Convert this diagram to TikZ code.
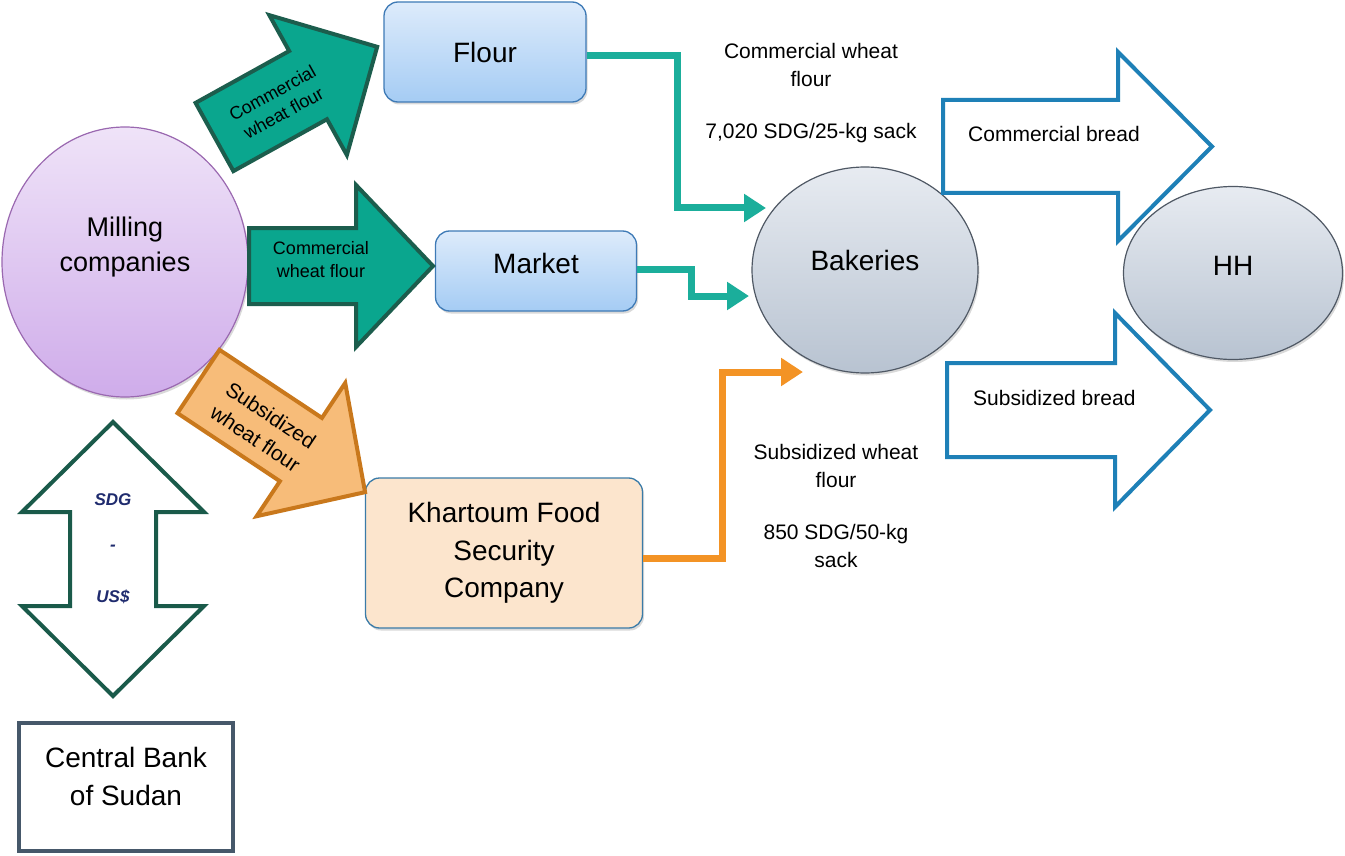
\documentclass[tikz,border=0pt]{standalone}
\usepackage{fontspec}
\setmainfont{Liberation Sans}
\usetikzlibrary{shapes.geometric,arrows.meta,shadows}

\definecolor{millborder}{HTML}{9A68B0}
\definecolor{milltop}{HTML}{EFE3F8}
\definecolor{millbot}{HTML}{CFACEA}
\definecolor{boxborder}{HTML}{3E7AB6}
\definecolor{boxtop}{HTML}{DDEBFB}
\definecolor{boxbot}{HTML}{A5CCF4}
\definecolor{kfscfill}{HTML}{FCE5CD}
\definecolor{kfscborder}{HTML}{3A7BA8}
\definecolor{ovalborder}{HTML}{4F5864}
\definecolor{ovaltop}{HTML}{E7EBF1}
\definecolor{ovalbot}{HTML}{B8C3D1}
\definecolor{tealfill}{HTML}{0AA68E}
\definecolor{tealline}{HTML}{1C5D4D}
\definecolor{tealconn}{HTML}{1BAE9B}
\definecolor{orangefill}{HTML}{F7BC79}
\definecolor{orangeline}{HTML}{C9781C}
\definecolor{orangeconn}{HTML}{F39325}
\definecolor{breadblue}{HTML}{1E80B7}
\definecolor{fxgreen}{HTML}{1A5A4A}
\definecolor{fxtext}{HTML}{1F2B6E}
\definecolor{bankborder}{HTML}{46586A}

\begin{document}
\begin{tikzpicture}[x=1pt,y=-1pt,
  bigtext/.style={font=\fontsize{28}{38}\selectfont, align=center},
  pricetext/.style={font=\fontsize{21}{28}\selectfont, align=center},
  arrowtext/.style={font=\fontsize{18}{23}\selectfont, align=center, inner sep=0pt},
  shadowed/.style={drop shadow={opacity=0.3, shadow xshift=1.5pt, shadow yshift=-2.5pt}},
  boxbase/.style={shadowed, line width=1.3pt, rounded corners=14pt, bigtext},
  flowbox/.style={boxbase, draw=boxborder, top color=boxtop, bottom color=boxbot},
  ovalnode/.style={shadowed, ellipse, draw=ovalborder, line width=1.2pt, top color=ovaltop, bottom color=ovalbot},
  tealarrow/.style={fill=tealfill, draw=tealline, line width=4pt},
  orangearrow/.style={fill=orangefill, draw=orangeline, line width=4pt},
  breadarrow/.style={fill=white, draw=breadblue, line width=4pt},
  fxarrow/.style={fill=white, draw=fxgreen, line width=4pt},
  fxlabel/.style={font=\fontsize{17}{20}\selectfont\bfseries\itshape, text=fxtext},
  conn/.style={line width=7pt, -{Triangle[length=22pt,width=27pt]}},
]
\useasboundingbox (0,0) rectangle (1345,856);

% Milling companies
\node[ovalnode, draw=millborder, top color=milltop, bottom color=millbot,
  minimum width=246pt, minimum height=270pt] (mill) at (125,262) {};
\node[bigtext, font=\fontsize{27}{35}\selectfont] (milltxt) at (125,247) {Milling\\companies};

% boxes
\node[flowbox, minimum width=202pt, minimum height=100pt] (flour) at (485,52) {Flour};
\node[flowbox, minimum width=201pt, minimum height=80pt, text depth=16pt] (market) at (536,271) {Market};
\node[boxbase, draw=kfscborder, fill=kfscfill, minimum width=277pt, minimum height=150pt,
  font=\fontsize{28}{37.5}\selectfont] (kfsc) at (504,553) {Khartoum Food\\Security\\Company};

% Bakeries and HH
\node[ovalnode, minimum width=226pt, minimum height=206pt] (bakery) at (865,270) {};
\node[bigtext] (bakerytxt) at (865,260) {Bakeries};
\node[ovalnode, minimum width=219pt, minimum height=173pt] (hh) at (1233,273) {};
\node[bigtext] (hhtxt) at (1233,266) {HH};

% Central Bank
\node[draw=bankborder, line width=4pt, minimum width=214pt, minimum height=128pt] (cbos) at (126,787) {};
\node[bigtext] (cbostxt) at (126,776) {Central Bank\\of Sudan};

% block arrows out of the mill
\begin{scope}[shift={(214.5,137)}, rotate=29]
\draw[tealarrow] (0,-39) -- (107,-39) -- (107,-80) -- (186,0) -- (107,80) -- (107,39) -- (0,39) -- cycle;
\node[arrowtext, rotate=29] (flowtop) at (72,1) {Commercial\\wheat flour};
\end{scope}
\begin{scope}[shift={(249,266)}]
\draw[tealarrow] (0,-38) -- (107,-38) -- (107,-81) -- (184,0) -- (107,81) -- (107,38) -- (0,38) -- cycle;
\node[arrowtext] (flowmid) at (72,-6) {Commercial\\wheat flour};
\end{scope}
\begin{scope}[shift={(198.5,381.5)}, rotate=-33.6]
\draw[orangearrow] (0,-38) -- (123,-38) -- (123,-80) -- (200,0) -- (123,80) -- (123,38) -- (0,38) -- cycle;
\node[arrowtext, font=\fontsize{21}{28}\selectfont, rotate=-33.6] (flowsub) at (79,2) {Subsidized\\wheat flour};
\end{scope}

% bread arrows
\begin{scope}[shift={(943,146.5)}]
\draw[breadarrow] (0,-46.5) -- (175,-46.5) -- (175,-94.5) -- (269,0) -- (175,94.5) -- (175,46.5) -- (0,46.5) -- cycle;
\node[pricetext, anchor=base west, inner sep=0pt] (combread) at (25,-4.5) {Commercial bread};
\end{scope}
\begin{scope}[shift={(947,410)}]
\draw[breadarrow] (0,-47) -- (168,-47) -- (168,-97) -- (263,0) -- (168,97) -- (168,47) -- (0,47) -- cycle;
\node[pricetext, anchor=base west, inner sep=0pt] (subbread) at (26,-5) {Subsidized bread};
\end{scope}

% SDG - US$
\draw[fxarrow] (113,422) -- (204,512) -- (156,512) -- (156,606) -- (204,606) -- (113,696)
  -- (22,606) -- (70,606) -- (70,512) -- (22,512) -- cycle;
\node[fxlabel] (sdg) at (113,500) {SDG};
\node[fxlabel] (dash) at (113,548) {-};
\node[fxlabel] (usd) at (113,597) {US\$};

% prices
\node[pricetext] (comprice) at (811,93) {Commercial wheat\\flour\\[24pt]7,020 SDG/25-kg sack};
\node[pricetext] (subprice) at (836,506) {Subsidized wheat\\flour\\[24pt]850 SDG/50-kg\\sack};

% connectors into the bakeries
\coordinate (bakin1) at (766,208);
\coordinate (bakin2) at (749,296);
\coordinate (bakin3) at (803,372);
\draw[conn, tealconn] ([yshift=-4pt]flour.east) -- ++(91,0) |- (bakin1);
\draw[conn, tealconn] ([yshift=2pt]market.east) -- ++(54,0) |- (bakin2);
\draw[conn, orangeconn] ([yshift=-5pt]kfsc.east) -- ++(79,0) |- (bakin3);
\end{tikzpicture}
\end{document}
